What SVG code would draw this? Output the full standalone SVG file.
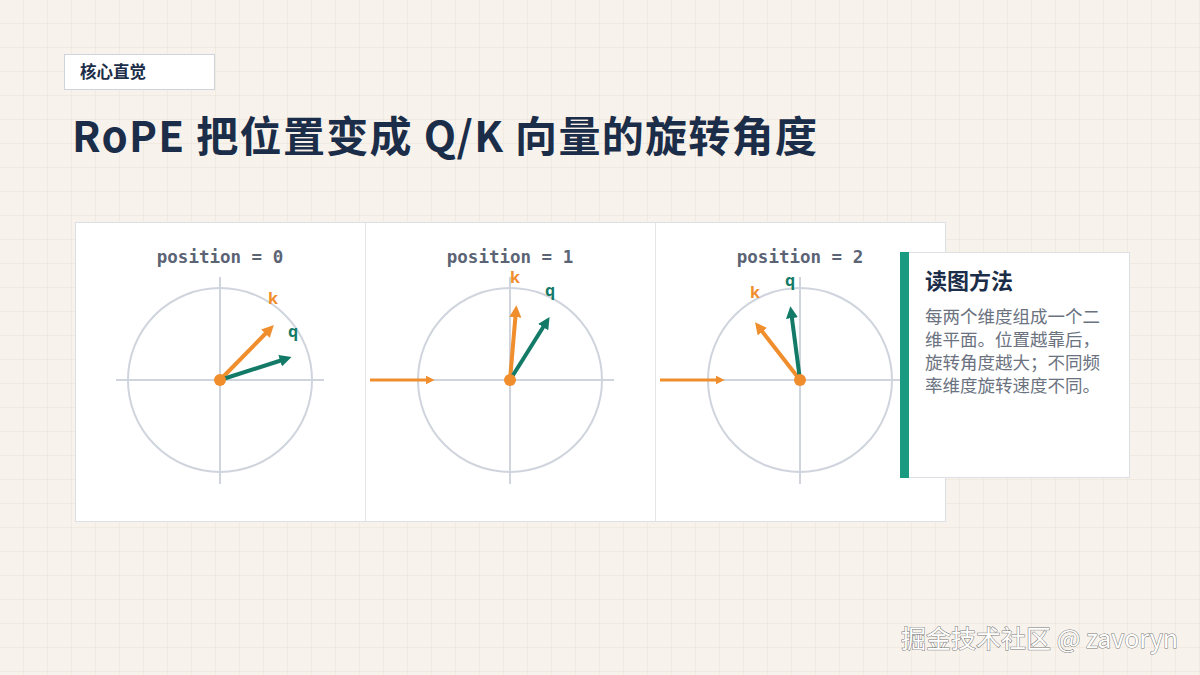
<svg xmlns="http://www.w3.org/2000/svg" width="1200" height="675" viewBox="0 0 1200 675">
<defs>
<pattern id="grid" width="24" height="24" patternUnits="userSpaceOnUse">
<path d="M24 0V24M0 24H24" fill="none" stroke="#e9e1d5" stroke-width="1"/>
</pattern>
<marker id="ao" viewBox="0 0 10 10" refX="6" refY="5" markerWidth="3" markerHeight="3" orient="auto" markerUnits="strokeWidth">
<path d="M0 0L10 5L0 10z" fill="#f08d2c"/>
</marker>
<marker id="at" viewBox="0 0 10 10" refX="6" refY="5" markerWidth="3" markerHeight="3" orient="auto" markerUnits="strokeWidth">
<path d="M0 0L10 5L0 10z" fill="#137a68"/>
</marker>
<style>
.pos{font-family:"DejaVu Sans Mono","Liberation Mono",monospace;font-weight:bold;font-size:17.5px;fill:#5b6475;text-anchor:middle}
.ax{stroke:#cfd4dd;stroke-width:2;fill:none}
.kv{stroke:#f08d2c;stroke-width:4;fill:none;marker-end:url(#ao)}
.qv{stroke:#137a68;stroke-width:4;fill:none;marker-end:url(#at)}
.kl{font-family:"Noto Sans","DejaVu Sans",sans-serif;font-weight:bold;font-size:16px;fill:#f08d2c;text-anchor:middle}
.ql{font-family:"Noto Sans","DejaVu Sans",sans-serif;font-weight:bold;font-size:16px;fill:#137a68;text-anchor:middle}
.cjk{font-family:"Noto Sans CJK SC","Noto Sans",sans-serif}
</style>
</defs>
<rect width="1200" height="675" fill="#f7f3ec"/>
<rect width="1200" height="675" fill="url(#grid)"/>

<g id="tag">
<rect x="64.500" y="54.500" width="150" height="35" fill="#ffffff" stroke="#cfd4dc"/>
<text x="80" y="78" class="cjk" font-size="16.5" font-weight="bold" fill="#1b2d48">核心直觉</text>
</g>
<g id="title">
<text x="72" y="152" class="cjk" font-size="42" font-weight="bold" letter-spacing="1.3" fill="#1b2d48">RoPE 把位置变成 Q/K 向量的旋转角度</text>
</g>

<g id="panel">
<rect x="75.500" y="222.500" width="870" height="299" fill="#ffffff" stroke="#dcdfe3"/>
<line x1="365.500" y1="223" x2="365.500" y2="521" stroke="#e3e5e8"/>
<line x1="655.500" y1="223" x2="655.500" y2="521" stroke="#e3e5e8"/>
</g>

<g id="pos0">
<text x="220" y="263" class="pos">position = 0</text>
<circle cx="220" cy="380" r="92" class="ax"/>
<line x1="116" y1="380" x2="324" y2="380" class="ax"/>
<line x1="220" y1="277" x2="220" y2="484" class="ax"/>
<line x1="220" y1="380" x2="270.500" y2="328.500" class="kv"/>
<line x1="220" y1="380" x2="287" y2="358.500" class="qv"/>
<circle cx="220" cy="380" r="6" fill="#f08d2c"/>
<text x="273" y="304" class="kl">k</text>
<text x="293" y="337" class="ql">q</text>
</g>

<g id="pos1">
<text x="510" y="263" class="pos">position = 1</text>
<circle cx="510" cy="380" r="92" class="ax"/>
<line x1="406" y1="380" x2="614" y2="380" class="ax"/>
<line x1="510" y1="277" x2="510" y2="484" class="ax"/>
<line x1="510" y1="380" x2="516" y2="310" class="kv"/>
<line x1="510" y1="380" x2="547" y2="321" class="qv"/>
<circle cx="510" cy="380" r="6" fill="#f08d2c"/>
<text x="515" y="283" class="kl">k</text>
<text x="550" y="296" class="ql">q</text>
</g>

<g id="pos2">
<text x="800" y="263" class="pos">position = 2</text>
<circle cx="800" cy="380" r="92" class="ax"/>
<line x1="696" y1="380" x2="904" y2="380" class="ax"/>
<line x1="800" y1="277" x2="800" y2="484" class="ax"/>
<line x1="800" y1="380" x2="758" y2="326" class="kv"/>
<line x1="800" y1="380" x2="791" y2="311" class="qv"/>
<circle cx="800" cy="380" r="6" fill="#f08d2c"/>
<text x="755" y="298" class="kl">k</text>
<text x="790" y="286" class="ql">q</text>
</g>

<g id="connectors">
<line x1="370" y1="380" x2="431" y2="380" stroke="#f08d2c" stroke-width="3" marker-end="url(#ao)"/>
<line x1="660" y1="380" x2="721" y2="380" stroke="#f08d2c" stroke-width="3" marker-end="url(#ao)"/>
</g>

<g id="note">
<rect x="900.500" y="252.500" width="229" height="225" fill="#ffffff" stroke="#dcdfe3"/>
<rect x="900" y="252" width="9" height="226" fill="#1a9a80"/>
<text x="925" y="289" class="cjk" font-size="22" font-weight="bold" fill="#1b2d48">读图方法</text>
<g class="cjk" font-size="17.5" fill="#6b7280">
<text x="925" y="323">每两个维度组成一个二</text>
<text x="925" y="346">维平面。位置越靠后，</text>
<text x="925" y="369">旋转角度越大；不同频</text>
<text x="925" y="392">率维度旋转速度不同。</text>
</g>
</g>

<g id="watermark">
<text x="1178" y="648" text-anchor="end" font-family="Noto Sans CJK SC, Noto Sans, sans-serif" font-size="25" fill="#ffffff" stroke="#777777" stroke-width="1" paint-order="stroke">掘金技术社区 @ zavoryn</text>
</g>
</svg>
